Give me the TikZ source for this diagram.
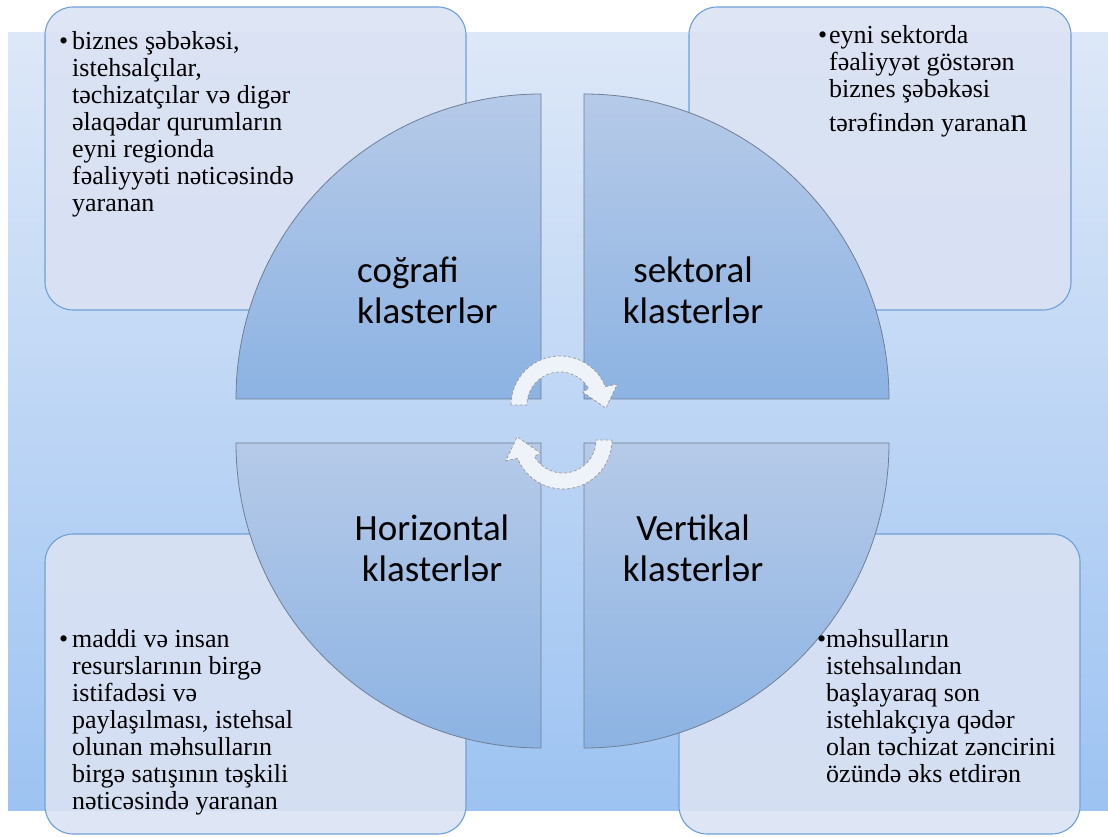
\documentclass[tikz,border=0pt]{standalone}
\usepackage{fontspec}
\setmainfont{Liberation Serif}
\newfontfamily\labelfont{Carlito}

\definecolor{bgtop}{HTML}{DDE8F8}
\definecolor{bgbot}{HTML}{9DC3F2}
\definecolor{boxfill}{HTML}{DAE2F3}
\definecolor{boxline}{HTML}{6FA0D8}
\definecolor{qtop}{HTML}{B6CAE8}
\definecolor{qbot}{HTML}{8CB3E3}
\definecolor{qline}{HTML}{6F7F95}
\definecolor{arrowfill}{HTML}{EEF2F9}

% bullet, then the lines of the item
\newcommand{\BulletText}[2][11pt]{\makebox[#1][l]{\textbullet}\parbox[t]{320pt}{\raggedright #2}}

\tikzset{
    textbox/.style={draw=boxline, line width=1.1pt, fill=boxfill, fill opacity=0.9, rounded corners=28pt},
    quarter/.style={draw=qline, line width=0.8pt, top color=qtop, bottom color=qbot},
    turnarrow/.style={draw=gray!80, densely dashed, line width=0.7pt, fill=arrowfill},
    boxtext/.style={anchor=base west, inner sep=0pt, font=\fontsize{26}{27}\selectfont},
    clustername/.style={anchor=base, inner sep=0pt, text width=220pt, align=center,
        font=\labelfont\fontsize{37}{41}\selectfont},
}

\begin{document}
\begin{tikzpicture}[x=1pt, y=1pt]
    \useasboundingbox (0,0) rectangle (1108,836);

    % background
    \shade[top color=bgtop, bottom color=bgbot] (8,26) rectangle (1108,803);

    % text boxes behind the quarters
    \draw[textbox] (45,526) rectangle (466,829);
    \draw[textbox] (689,526) rectangle (1071,829);
    \draw[textbox] (45,2) rectangle (466,302);
    \draw[textbox] (679,2) rectangle (1080,302);

    % four quarter discs
    \coordinate (QTL) at (541,437);
    \coordinate (QTR) at (584,437);
    \coordinate (QBL) at (541,393);
    \coordinate (QBR) at (584,393);
    \draw[quarter] (QTL) -- ++(-305,0) arc[start angle=180, end angle=90, radius=305] -- cycle;
    \draw[quarter] (QTR) -- ++(0,305) arc[start angle=90, end angle=0, radius=305] -- cycle;
    \draw[quarter] (QBL) -- ++(-305,0) arc[start angle=180, end angle=270, radius=305] -- cycle;
    \draw[quarter] (QBR) -- ++(305,0) arc[start angle=0, end angle=-90, radius=305] -- cycle;

    % the two turning arrows in the middle
    \begin{scope}[shift={(560,431)}]
        \draw[turnarrow] (180:49) arc[start angle=180, end angle=22, radius=49]
            -- (20:61) -- (-4:46) -- (30:26) -- (30:33)
            arc[start angle=30, end angle=180, radius=33] -- cycle;
    \end{scope}
    \begin{scope}[shift={(563,396)}, rotate=180]
        \draw[turnarrow] (180:49) arc[start angle=180, end angle=22, radius=49]
            -- (20:61) -- (-4:46) -- (30:26) -- (30:33)
            arc[start angle=30, end angle=180, radius=33] -- cycle;
    \end{scope}

    % cluster names
    \node[clustername, anchor=base west, align=left] (geo) at (357,553) {coğrafi\\klasterlər};
    \node[clustername] (sec) at (693,553) {sektoral\\klasterlər};
    \node[clustername] (hor) at (432,295) {Horizontal\\klasterlər};
    \node[clustername] (ver) at (693,295) {Vertikal\\klasterlər};

    % descriptions
    \node[boxtext] (geotext) at (59,786) {\BulletText[13pt]{biznes şəbəkəsi,\\
        istehsalçılar,\\
        təchizatçılar və digər\\
        əlaqədar qurumların\\
        eyni regionda\\
        fəaliyyəti nəticəsində\\
        yaranan}};
    \node[boxtext] (sectext) at (818,792) {\BulletText{eyni sektorda\\
        fəaliyyət göstərən\\
        biznes şəbəkəsi\\[7pt]
        tərəfindən yarana{\fontsize{34}{34}\selectfont n}}};
    \node[boxtext] (hortext) at (59,189) {\BulletText[13pt]{maddi və insan\\
        resurslarının birgə\\
        istifadəsi və\\
        paylaşılması, istehsal\\
        olunan məhsulların\\
        birgə satışının təşkili\\
        nəticəsində yaranan}};
    \node[boxtext] (vertext) at (817,189) {\BulletText[9pt]{məhsulların\\
        istehsalından\\
        başlayaraq son\\
        istehlakçıya qədər\\
        olan təchizat zəncirini\\
        özündə əks etdirən}};
\end{tikzpicture}
\end{document}
